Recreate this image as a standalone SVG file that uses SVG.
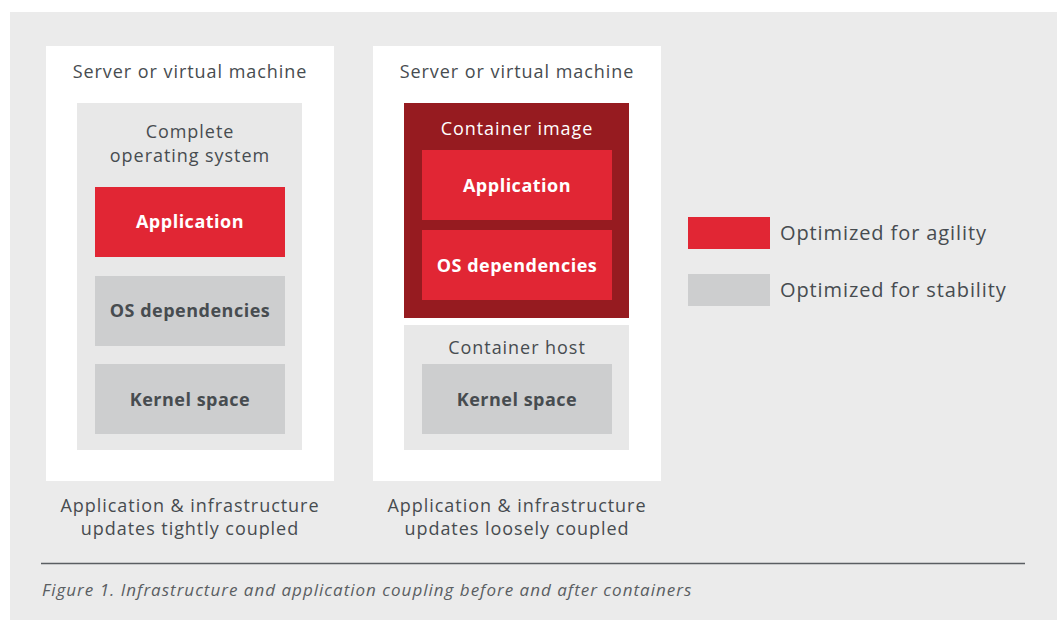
<svg xmlns="http://www.w3.org/2000/svg" width="1057" height="620" viewBox="0 0 1057 620">
<style>
text{font-family:"Open Sans","Liberation Sans",sans-serif;fill:#474c50;text-anchor:middle}
.t{font-size:18px;letter-spacing:0.95px}
.b{font-size:18px;font-weight:bold;letter-spacing:0.5px}
.w{fill:#ffffff}
.red{fill:#e12634}
.dred{fill:#961b20}
.lg{fill:#cdcecf}
.in{fill:#e8e8e8}
.wh{fill:#ffffff}
.lt{font-size:20px;letter-spacing:0.9px;text-anchor:start}
</style>
<rect x="10" y="12" width="1047" height="608" fill="#ebebeb"/>
<g id="left-server">
<rect class="wh" x="46" y="46" width="288" height="435"/>
<text class="t" x="190" y="78">Server or virtual machine</text>
</g>
<g id="left-os">
<rect class="in" x="77" y="103" width="225" height="347"/>
<text class="t" x="190" y="138">Complete</text>
<text class="t" x="190" y="162">operating system</text>
</g>
<g id="left-app">
<rect class="red" x="95" y="187" width="190" height="70"/>
<text class="b w" x="190" y="228">Application</text>
</g>
<g id="left-osdeps">
<rect class="lg" x="95" y="276" width="190" height="70"/>
<text class="b" x="190" y="317">OS dependencies</text>
</g>
<g id="left-kernel">
<rect class="lg" x="95" y="364" width="190" height="70"/>
<text class="b" x="190" y="406">Kernel space</text>
</g>
<g id="right-server">
<rect class="wh" x="373" y="46" width="288" height="435"/>
<text class="t" x="517" y="78">Server or virtual machine</text>
</g>
<g id="container-image">
<rect class="dred" x="404" y="103" width="225" height="215"/>
<text class="t w" x="517" y="135">Container image</text>
</g>
<g id="right-app">
<rect class="red" x="422" y="150" width="190" height="70"/>
<text class="b w" x="517" y="192">Application</text>
</g>
<g id="right-osdeps">
<rect class="red" x="422" y="230" width="190" height="70"/>
<text class="b w" x="517" y="272">OS dependencies</text>
</g>
<g id="container-host">
<rect class="in" x="404" y="325" width="225" height="125"/>
<text class="t" x="517" y="354">Container host</text>
</g>
<g id="right-kernel">
<rect class="lg" x="422" y="364" width="190" height="70"/>
<text class="b" x="517" y="406">Kernel space</text>
</g>
<g id="legend">
<rect class="red" x="688" y="217" width="82" height="32"/>
<text class="lt" x="780" y="240">Optimized for agility</text>
<rect class="lg" x="688" y="274" width="82" height="32"/>
<text class="lt" x="780" y="297">Optimized for stability</text>
</g>
<g id="captions">
<text class="t" x="190" y="512">Application &amp; infrastructure</text>
<text class="t" x="190" y="535">updates tightly coupled</text>
<text class="t" x="517" y="512">Application &amp; infrastructure</text>
<text class="t" x="517" y="535">updates loosely coupled</text>
</g>
<g id="connectors">
<line x1="41" y1="563.5" x2="1025" y2="563.5" stroke="#5a5e62" stroke-width="1.5"/>
</g>
<text x="42" y="596" style="font-size:17px;font-style:italic;text-anchor:start;letter-spacing:1px;fill:#5a5e62">Figure 1. Infrastructure and application coupling before and after containers</text>
</svg>
